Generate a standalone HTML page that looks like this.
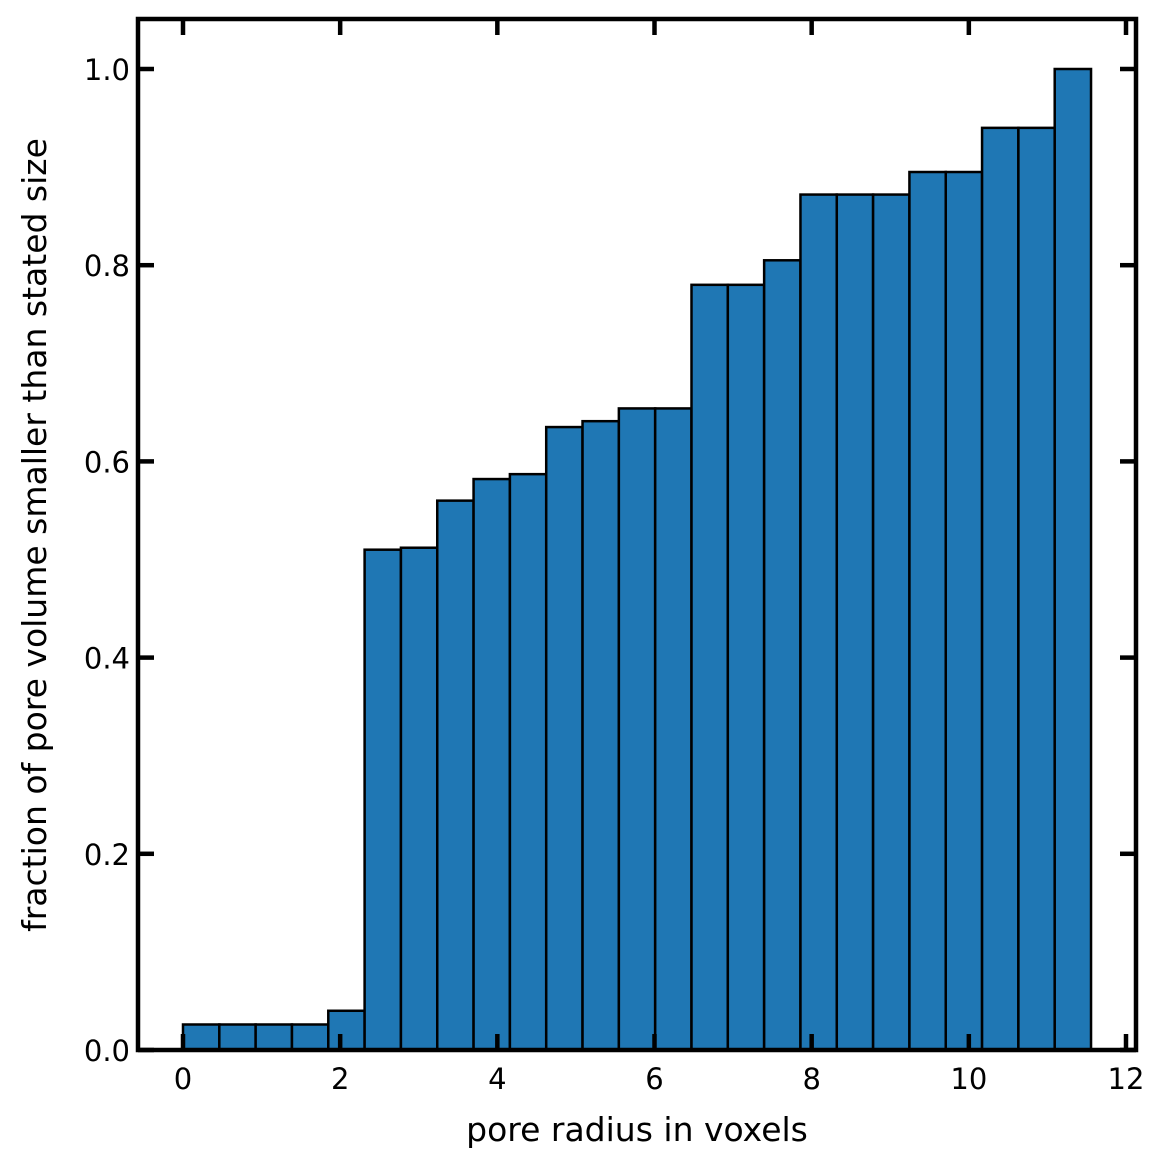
<!DOCTYPE html>
<html><head><meta charset="utf-8"><style>
body{margin:0;background:#fff;}
svg text{font-family:"DejaVu Sans","Liberation Sans",sans-serif;fill:#000;}
</style></head><body>
<svg id="chart" width="1167" height="1168" xmlns="http://www.w3.org/2000/svg">
<g id="bars"></g>
<g id="axes"></g>
<text x="637" y="1141" font-size="33" text-anchor="middle">pore radius in voxels</text>
<text transform="translate(46,535) rotate(-90)" font-size="33" text-anchor="middle">fraction of pore volume smaller than stated size</text>
</svg>
<script>
const values=[0.026,0.026,0.026,0.026,0.04,0.51,0.512,0.56,0.582,0.587,0.635,0.641,0.654,0.654,0.78,0.78,0.805,0.872,0.872,0.872,0.895,0.895,0.94,0.94,1.0];
const xStart=0, xEnd=11.555;
const xTicks=[0,2,4,6,8,10,12];
const yTicks=[0,0.2,0.4,0.6,0.8,1.0];
const yTickLabels=["0.0","0.2","0.4","0.6","0.8","1.0"];
const L=138,R=1136,T=19,B=1050;
const xs=v=>183+v*(1126-183)/12;
const ys=v=>1050-v*981;
const NS="http://www.w3.org/2000/svg";
const bars=document.getElementById('bars'),axes=document.getElementById('axes');
function mk(tag,attrs,parent){const e=document.createElementNS(NS,tag);for(const k in attrs)e.setAttribute(k,attrs[k]);parent.appendChild(e);return e;}
const w=(xEnd-xStart)/values.length;
values.forEach((v,i)=>{
  const x0=xs(xStart+i*w),x1=xs(xStart+(i+1)*w);
  const r=mk('rect',{x:x0,y:ys(v),width:x1-x0,height:ys(0)-ys(v),fill:'#1f77b4',stroke:'#000','stroke-width':2.5},bars);
  
  
});
xTicks.forEach(t=>{
  const x=xs(t);
  mk('line',{x1:x,x2:x,y1:B,y2:B-16,stroke:'#000','stroke-width':4.5},axes);
  mk('line',{x1:x,x2:x,y1:T,y2:T+16,stroke:'#000','stroke-width':4.5},axes);
  const tx=mk('text',{x:x,y:B+39,'font-size':29,'text-anchor':'middle'},axes);
  tx.textContent=t;
  
  
});
yTicks.forEach((t,i)=>{
  const y=ys(t);
  mk('line',{x1:L,x2:L+16,y1:y,y2:y,stroke:'#000','stroke-width':4.5},axes);
  mk('line',{x1:R,x2:R-16,y1:y,y2:y,stroke:'#000','stroke-width':4.5},axes);
  const tx=mk('text',{x:L-8,y:y+11,'font-size':29,'text-anchor':'end'},axes);
  tx.textContent=yTickLabels[i];
  
  
});
const f=mk('rect',{x:L,y:T,width:R-L,height:B-T,fill:'none',stroke:'#000','stroke-width':4.5},axes);


</script>
</body></html>
